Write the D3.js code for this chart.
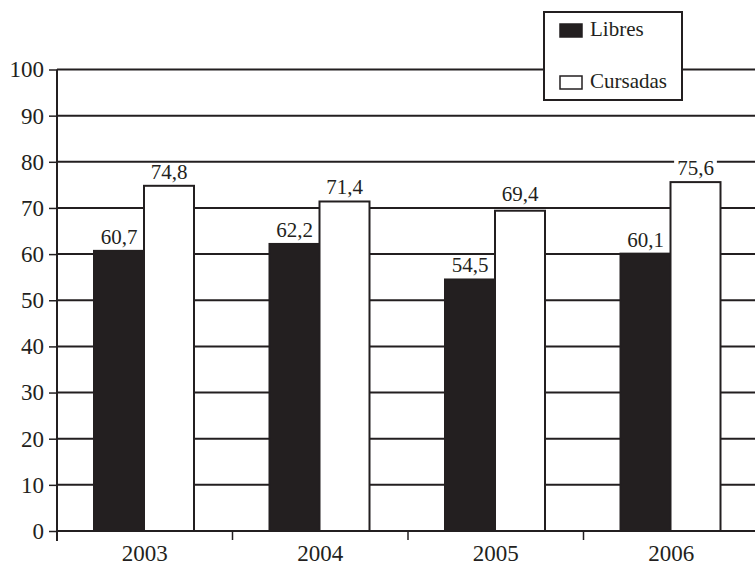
<!DOCTYPE html>
<html>
<head>
<meta charset="utf-8">
<script src="https://cdn.jsdelivr.net/npm/d3@7"></script>
<style>
  html, body { margin: 0; padding: 0; background: #fff; }
  svg { display: block; }
</style>
</head>
<body>
<svg id="chart" width="755" height="565"></svg>
<script>
const years = ["2003", "2004", "2005", "2006"];
const seriesNames = ["Libres", "Cursadas"];
const libres = [60.7, 62.2, 54.5, 60.1];
const cursadas = [74.8, 71.4, 69.4, 75.6];
const yTicks = [0, 10, 20, 30, 40, 50, 60, 70, 80, 90, 100];

const ink = "#231f20";
const serif = "'Liberation Serif', 'Times New Roman', Times, 'DejaVu Serif', serif";
const fills = { Libres: ink, Cursadas: "#ffffff" };
const fmt = v => d3.format(".1f")(v).replace(".", ",");

const svg = d3.select("#chart").attr("font-family", serif);
const plotLeft = 57, plotRight = 759, plotTop = 69.5, plotBottom = 531;

const x = d3.scaleBand().domain(years).range([plotLeft, plotRight]).paddingInner(0).paddingOuter(0);
const y = d3.scaleLinear().domain([0, 100]).range([plotBottom, plotTop]);
const inner = d3.scaleBand().domain(seriesNames).range([37, 137]).padding(0);

// horizontal gridlines
svg.append("g").selectAll("line").data(yTicks.filter(d => d > 0)).join("line")
  .attr("x1", plotLeft).attr("x2", 755)
  .attr("y1", d => y(d)).attr("y2", d => y(d))
  .attr("stroke", ink).attr("stroke-width", 2);

// y axis
const yAxis = svg.append("g").attr("transform", `translate(${plotLeft},0)`)
  .call(d3.axisLeft(y).tickValues(yTicks).tickSize(8).tickPadding(5))
  .attr("font-family", serif).attr("font-size", 23);
yAxis.select(".domain").remove();
yAxis.selectAll(".tick line").attr("stroke", ink).attr("stroke-width", 1.5);
yAxis.selectAll(".tick text").attr("fill", ink);
svg.append("line").attr("x1", plotLeft).attr("x2", plotLeft).attr("y1", plotTop).attr("y2", plotBottom + 10)
  .attr("stroke", ink).attr("stroke-width", 2);

// bars
const rows = years.map((yr, i) => ({ year: yr, values: [
  { key: "Libres", value: libres[i] },
  { key: "Cursadas", value: cursadas[i] }
]}));

const groups = svg.append("g").selectAll("g").data(rows).join("g")
  .attr("transform", d => `translate(${x(d.year)},0)`);

groups.selectAll("rect").data(d => d.values).join("rect")
  .attr("x", d => inner(d.key))
  .attr("width", inner.bandwidth())
  .attr("y", d => y(d.value))
  .attr("height", d => y(0) - y(d.value))
  .attr("fill", d => fills[d.key])
  .attr("stroke", ink).attr("stroke-width", 2);

// value labels, each on a tight white backing that cuts any gridline running
// through the digits; a label that would sit right on a gridline is lifted clear of it
const gridYs = yTicks.map(t => y(t));
groups.each(function(d) {
  const g = d3.select(this);
  d.values.forEach(v => {
    const cx = inner(v.key) + inner.bandwidth() / 2;
    let base = y(v.value) - 7;
    gridYs.forEach(gy => { if (gy > base && gy - base < 5) base = gy - 7; });
    const t = g.append("text")
      .attr("x", cx).attr("y", base)
      .attr("text-anchor", "middle").attr("font-size", 21).attr("fill", ink)
      .text(fmt(v.value));
    const bb = t.node().getBBox();
    g.insert("rect", () => t.node())
      .attr("x", bb.x - 3).attr("y", base - 15.5)
      .attr("width", bb.width + 6).attr("height", 17.5)
      .attr("fill", "#fff");
  });
});

// x axis
svg.append("line").attr("x1", plotLeft).attr("x2", 755).attr("y1", plotBottom).attr("y2", plotBottom)
  .attr("stroke", ink).attr("stroke-width", 2);
const xAxis = svg.append("g").attr("transform", `translate(0,${plotBottom})`)
  .call(d3.axisBottom(x).tickSize(0).tickPadding(14))
  .attr("font-family", serif).attr("font-size", 23);
xAxis.select(".domain").remove();
xAxis.selectAll(".tick text").attr("fill", ink);
svg.append("g").selectAll("line").data(years.slice(1)).join("line")
  .attr("x1", d => x(d)).attr("x2", d => x(d))
  .attr("y1", plotBottom).attr("y2", plotBottom + 9)
  .attr("stroke", ink).attr("stroke-width", 1.5);

// legend
const lg = svg.append("g").attr("transform", "translate(544,12)");
lg.append("rect").attr("width", 138).attr("height", 88)
  .attr("fill", "#fff").attr("stroke", ink).attr("stroke-width", 2);
seriesNames.forEach((name, i) => {
  const yy = 18 + i * 52;
  lg.append("rect").attr("x", 16).attr("y", yy - 6).attr("width", 22).attr("height", 13)
    .attr("fill", fills[name]).attr("stroke", ink).attr("stroke-width", 1.5);
  lg.append("text").attr("x", 46).attr("y", yy + 6).attr("font-size", 21).attr("fill", ink).text(name);
});
</script>
</body>
</html>
